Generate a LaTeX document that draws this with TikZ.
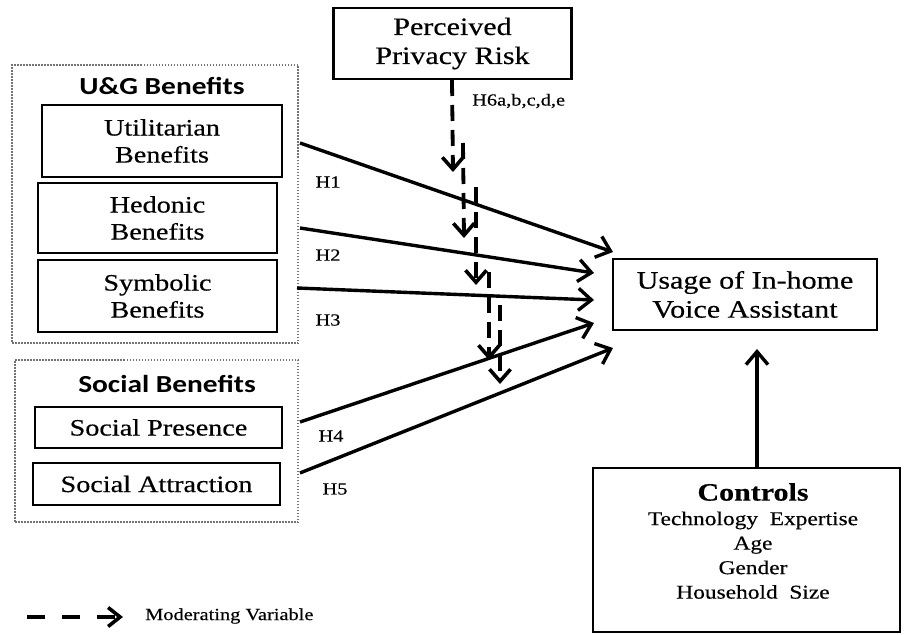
\documentclass[tikz,border=0pt]{standalone}
\usepackage{fontspec}
\setmainfont{Liberation Serif}[FakeStretch=1.2,FakeBold=0.4]
\newfontfamily\titlefont{Carlito}[FakeStretch=1.2]
\usetikzlibrary{arrows.meta}
\tikzset{
  box/.style={draw, line width=2.8pt, align=center, inner sep=0pt, font=\fontsize{23.5}{27}\selectfont},
  group/.style={draw=black!55, line width=1.8pt, dash pattern=on 1.5pt off 1.5pt, inner sep=0pt},
  grouptitle/.style={font=\titlefont\bfseries\fontsize{24.5}{26}\selectfont, inner sep=0pt},
  hyp/.style={font=\fontsize{17}{20}\selectfont, inner sep=0pt},
  path/.style={line width=3.4pt, -{Straight Barb[length=13pt,width=22pt,line width=3.4pt]}},
  moder/.style={line width=3.8pt, dash pattern=on 16pt off 9pt, -{Straight Barb[length=12pt,width=21pt,line width=3.6pt]}},
}
\begin{document}
\begin{tikzpicture}[x=1pt,y=-1pt]
\useasboundingbox (0,0) rectangle (904,634);
% groups
\node[group, minimum width=286pt, minimum height=278pt] (ug) at (155,204) {};
\node[group, minimum width=283pt, minimum height=162pt] (soc) at (156.5,441) {};
\node[grouptitle] (ugt) at (162,86) {U\&G Benefits};
\node[grouptitle] (soct) at (167,384) {Social Benefits};
% boxes
\node[box, minimum width=238pt, minimum height=71pt, font=\fontsize{25}{29}\selectfont] (priv) at (452.5,43.5) {Perceived\\Privacy Risk};
\node[box, minimum width=240pt, minimum height=72pt] (util) at (162,141) {Utilitarian\\Benefits};
\node[box, minimum width=239pt, minimum height=70pt] (hed) at (157.5,218) {Hedonic\\Benefits};
\node[box, minimum width=239pt, minimum height=72pt] (sym) at (157.5,296) {Symbolic\\Benefits};
\node[box, minimum width=247pt, minimum height=41pt] (sp) at (158.5,427.5) {Social Presence};
\node[box, minimum width=247pt, minimum height=42pt] (sa) at (156.5,484) {Social Attraction};
\node[box, minimum width=264pt, minimum height=71pt, font=\fontsize{25}{29}\selectfont] (use) at (745,294.5) {Usage of In-home\\Voice Assistant};
\node[box, minimum width=307pt, minimum height=164pt] (ctrl) at (746.5,550) {};
\node[align=center, inner sep=0pt, font=\fontsize{19.5}{24.5}\selectfont] (ctrltext) at (753,541)
  {{\bfseries\fontsize{25}{24.5}\selectfont Controls}\\Technology~~Expertise\\Age\\Gender\\Household~~Size};
% main paths
\coordinate (s1) at (300,143); \coordinate (e1) at (613,252);
\coordinate (s2) at (300,228); \coordinate (e2) at (594,273);
\coordinate (s3) at (297,288); \coordinate (e3) at (594,300);
\coordinate (s4) at (300,422); \coordinate (e4) at (594,323);
\coordinate (s5) at (300,473); \coordinate (e5) at (613,348);
\draw[path] (s1) -- (e1);
\draw[path] (s2) -- (e2);
\draw[path] (s3) -- (e3);
\draw[path] (s4) -- (e4);
\draw[path] (s5) -- (e5);
\coordinate (cs) at (757,467); \coordinate (ce) at (757,349);
\draw[path] (cs) -- (ce);
% moderating arrows
\coordinate (m1s) at (452,80);  \coordinate (m1e) at (453,172);
\coordinate (m2s) at (463,143); \coordinate (m2e) at (464,238);
\coordinate (m3s) at (476,187); \coordinate (m3e) at (476,285);
\coordinate (m4s) at (489,272); \coordinate (m4e) at (489,360);
\coordinate (m5s) at (500,305); \coordinate (m5e) at (500,384);
\draw[moder] (m1s) -- (m1e);
\draw[moder] (m2s) -- (m2e);
\draw[moder] (m3s) -- (m3e);
\draw[moder] (m4s) -- (m4e);
\draw[moder] (m5s) -- (m5e);
% labels
\node[hyp] (h1) at (328,182) {H1};
\node[hyp] (h2) at (328,255) {H2};
\node[hyp] (h3) at (328,320) {H3};
\node[hyp] (h4) at (331,436) {H4};
\node[hyp] (h5) at (335,489) {H5};
\node[hyp, anchor=west] (h6) at (472,101) {H6a,b,c,d,e};
% legend
\coordinate (ls) at (27,617); \coordinate (le) at (123,617);
\draw[line width=3.8pt, dash pattern=on 18pt off 17pt, -{Straight Barb[length=12pt,width=19pt,line width=3.6pt]}] (ls) -- (le);
\node[hyp, anchor=west] (leg) at (145,616) {Moderating Variable};
\end{tikzpicture}
\end{document}
